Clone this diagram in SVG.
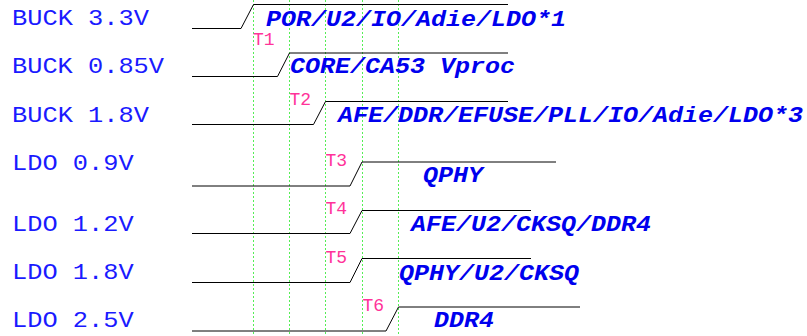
<svg xmlns="http://www.w3.org/2000/svg" width="807" height="336" viewBox="0 0 807 336">
<style>
.lbl{font-family:"Liberation Mono","DejaVu Sans Mono",monospace;font-size:21.5px;fill:#1a1aff}
.sig{font-family:"Liberation Mono","DejaVu Sans Mono",monospace;font-size:22px;font-weight:bold;font-style:italic;fill:#0000ee}
.t{font-family:"Liberation Mono","DejaVu Sans Mono",monospace;font-size:18px;fill:#ff3399}
.grid line{stroke:#55ee55;stroke-width:1;stroke-dasharray:2 2}
.wave polyline{fill:none;stroke:#000;stroke-width:1}
</style>
<rect width="807" height="336" fill="#fff"/>
<g id="grid" class="grid">
<line x1="253.5" y1="0" x2="253.5" y2="336"/>
<line x1="289.5" y1="0" x2="289.5" y2="336"/>
<line x1="325.5" y1="0" x2="325.5" y2="336"/>
<line x1="362.5" y1="0" x2="362.5" y2="336"/>
<line x1="398.5" y1="0" x2="398.5" y2="336"/>
</g>
<g id="connectors" class="wave">
<polyline points="192,28.5 241,28.5 253.5,4.5 508,4.5"/>
<polyline points="192,76.5 277.5,76.5 289.5,53 508,53"/>
<polyline points="192,124.5 313.5,124.5 325.5,101.5 508,101.5"/>
<polyline points="192,186 350,186 362,162 556,162"/>
<polyline points="192,233.5 350,233.5 362,210.5 531,210.5"/>
<polyline points="192,282.5 350,282.5 362,258.5 531,258.5"/>
<polyline points="192,331 386,331 398.5,307 580,307"/>
</g>
<g id="row1"><text class="lbl" x="12" y="25" textLength="137" lengthAdjust="spacingAndGlyphs">BUCK 3.3V</text><text class="sig" x="266" y="26" textLength="300" lengthAdjust="spacingAndGlyphs">POR/U2/IO/Adie/LDO*1</text><text class="t" x="253" y="45">T1</text></g>
<g id="row2"><text class="lbl" x="12" y="72.7" textLength="152" lengthAdjust="spacingAndGlyphs">BUCK 0.85V</text><text class="sig" x="290" y="73.3" textLength="225" lengthAdjust="spacingAndGlyphs">CORE/CA53 Vproc</text><text class="t" x="289.5" y="105">T2</text></g>
<g id="row3"><text class="lbl" x="12" y="121.7" textLength="137" lengthAdjust="spacingAndGlyphs">BUCK 1.8V</text><text class="sig" x="338" y="122" textLength="465" lengthAdjust="spacingAndGlyphs">AFE/DDR/EFUSE/PLL/IO/Adie/LDO*3</text><text class="t" x="325.5" y="166">T3</text></g>
<g id="row4"><text class="lbl" x="12" y="170" textLength="121.6" lengthAdjust="spacingAndGlyphs">LDO 0.9V</text><text class="sig" x="423" y="181.7" textLength="60" lengthAdjust="spacingAndGlyphs">QPHY</text><text class="t" x="325.5" y="214">T4</text></g>
<g id="row5"><text class="lbl" x="12" y="230.7" textLength="121.6" lengthAdjust="spacingAndGlyphs">LDO 1.2V</text><text class="sig" x="411" y="231.3" textLength="240" lengthAdjust="spacingAndGlyphs">AFE/U2/CKSQ/DDR4</text><text class="t" x="325.5" y="262.7">T5</text></g>
<g id="row6"><text class="lbl" x="12" y="279.3" textLength="121.6" lengthAdjust="spacingAndGlyphs">LDO 1.8V</text><text class="sig" x="399" y="280" textLength="180" lengthAdjust="spacingAndGlyphs">QPHY/U2/CKSQ</text><text class="t" x="362.5" y="310.7">T6</text></g>
<g id="row7"><text class="lbl" x="12" y="326.7" textLength="121.6" lengthAdjust="spacingAndGlyphs">LDO 2.5V</text><text class="sig" x="434" y="326.7" textLength="60" lengthAdjust="spacingAndGlyphs">DDR4</text></g>
</svg>
